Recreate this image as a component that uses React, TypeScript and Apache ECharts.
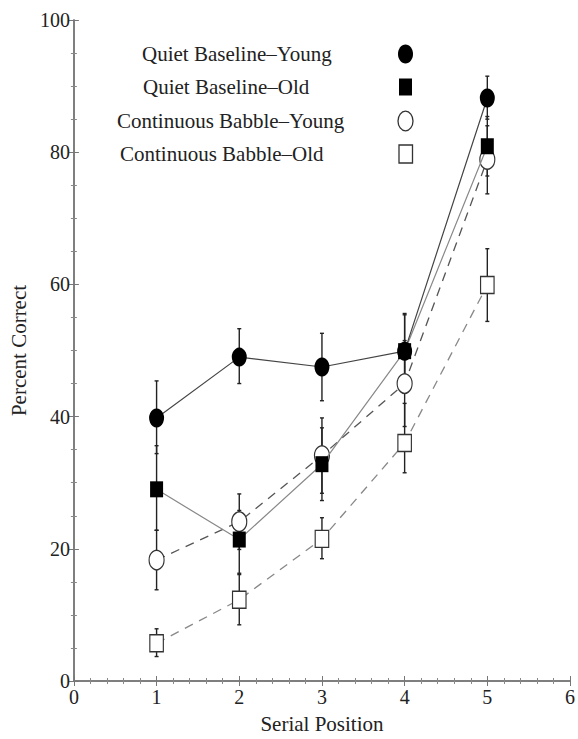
import React, { useEffect, useRef } from "react";
import * as echarts from "echarts";

const positions = [1, 2, 3, 4, 5];
const qbYoung = [39.8, 49.0, 47.5, 49.9, 88.2];
const qbYoungLow = [34.4, 45.0, 42.4, 44.4, 85.0];
const qbYoungHigh = [45.4, 53.3, 52.6, 55.6, 91.5];
const qbOld = [29.0, 21.4, 32.8, 49.9, 80.9];
const qbOldLow = [22.8, 16.3, 27.3, 44.4, 76.4];
const qbOldHigh = [35.6, 25.8, 38.3, 55.4, 85.4];
const cbYoung = [18.3, 24.1, 34.1, 45.0, 78.9];
const cbYoungLow = [13.8, 19.9, 28.4, 38.5, 73.7];
const cbYoungHigh = [22.8, 28.3, 39.8, 51.5, 84.0];
const cbOld = [5.7, 12.3, 21.5, 36.0, 59.9];
const cbOldLow = [3.7, 8.5, 18.5, 31.5, 54.4];
const cbOldHigh = [7.9, 16.1, 24.7, 42.0, 65.4];
const legendLabels = [
  "Quiet Baseline\u2013Young",
  "Quiet Baseline\u2013Old",
  "Continuous Babble\u2013Young",
  "Continuous Babble\u2013Old",
];

const FONT = "Liberation Serif";

export default function App() {
  const ref = useRef<HTMLDivElement>(null);
  useEffect(() => {
    if (!ref.current) return;
    const chart = echarts.init(ref.current, null, { renderer: "svg" });

    const pts = (ys: number[]) => positions.map((x, i) => [x, ys[i]]);
    const errData: number[][] = [];
    const addErr = (lo: number[], hi: number[]) =>
      positions.forEach((x, i) => errData.push([x, lo[i], hi[i]]));
    addErr(qbYoungLow, qbYoungHigh);
    addErr(qbOldLow, qbOldHigh);
    addErr(cbYoungLow, cbYoungHigh);
    addErr(cbOldLow, cbOldHigh);

    const axisCommon = {
      type: "value" as const,
      axisLine: { show: true, lineStyle: { color: "#777", width: 1.5 } },
      axisTick: { show: true, inside: true, length: 5, lineStyle: { color: "#777" } },
      splitLine: { show: false },
    };
    const label = { fontFamily: FONT, fontSize: 20, color: "#222" };

    const legendYs = [54, 87, 121, 154];
    const legendXs = [142, 143, 117, 120];
    const graphics: any[] = [];
    legendLabels.forEach((t, i) => {
      graphics.push({
        type: "text",
        x: legendXs[i],
        y: legendYs[i],
        style: { text: t, font: `21px "${FONT}"`, fill: "#222", textVerticalAlign: "middle", textAlign: "left" },
      });
    });
    graphics.push({ type: "ellipse", shape: { cx: 405.5, cy: legendYs[0], rx: 7.5, ry: 9.5 }, style: { fill: "#000" } });
    graphics.push({ type: "rect", shape: { x: 399, y: legendYs[1] - 8.5, width: 13, height: 17 }, style: { fill: "#000" } });
    graphics.push({ type: "ellipse", shape: { cx: 405.5, cy: legendYs[2], rx: 7.5, ry: 9.8 }, style: { fill: "#fff", stroke: "#333", lineWidth: 1.3 } });
    graphics.push({ type: "rect", shape: { x: 399, y: legendYs[3] - 9, width: 13.5, height: 18 }, style: { fill: "#fff", stroke: "#333", lineWidth: 1.3 } });

    chart.setOption({
      animation: false,
      backgroundColor: "#fff",
      grid: { left: 71, right: 6.5, top: 20, bottom: 54 },
      xAxis: [
        {
          ...axisCommon,
          min: 0,
          max: 6,
          interval: 1,
          position: "bottom",
          minorTick: { show: true, splitNumber: 5, length: 3, lineStyle: { color: "#888" } },
          axisLabel: { ...label, margin: 6 },
          name: "Serial Position",
          nameLocation: "middle",
          nameGap: 32,
          nameTextStyle: { fontFamily: FONT, fontSize: 21, color: "#222" },
        },
        {
          ...axisCommon,
          min: 0,
          max: 6,
          interval: 1,
          position: "top",
          minorTick: { show: true, splitNumber: 5, length: 3, lineStyle: { color: "#888" } },
          axisLabel: { show: false },
        },
      ],
      yAxis: [
        {
          ...axisCommon,
          min: 0,
          max: 100,
          interval: 20,
          position: "left",
          minorTick: { show: true, splitNumber: 4, length: 3, lineStyle: { color: "#888" } },
          axisLabel: { ...label, margin: 4 },
          name: "Percent Correct",
          nameLocation: "middle",
          nameGap: 41,
          nameTextStyle: { fontFamily: FONT, fontSize: 21, color: "#222" },
        },
        {
          ...axisCommon,
          min: 0,
          max: 100,
          interval: 20,
          position: "right",
          minorTick: { show: true, splitNumber: 4, length: 3, lineStyle: { color: "#888" } },
          axisLabel: { show: false },
        },
      ],
      graphic: graphics,
      series: [
        {
          type: "custom",
          name: "errors",
          z: 1,
          data: errData,
          renderItem: (params: any, api: any) => {
            const x = api.value(0);
            const lo = api.coord([x, api.value(1)]);
            const hi = api.coord([x, api.value(2)]);
            const cap = 2;
            const style = { stroke: "#222", lineWidth: 1.4 };
            return {
              type: "group",
              children: [
                { type: "line", shape: { x1: lo[0], y1: lo[1], x2: hi[0], y2: hi[1] }, style },
                { type: "line", shape: { x1: lo[0] - cap, y1: lo[1], x2: lo[0] + cap, y2: lo[1] }, style },
                { type: "line", shape: { x1: hi[0] - cap, y1: hi[1], x2: hi[0] + cap, y2: hi[1] }, style },
              ],
            };
          },
        },
        {
          type: "line",
          name: legendLabels[3],
          z: 2,
          data: pts(cbOld),
          symbol: "rect",
          symbolSize: [13.5, 17],
          lineStyle: { color: "#888", width: 1.3, type: [9, 7] },
          itemStyle: { color: "#fff", borderColor: "#333", borderWidth: 1.3 },
        },
        {
          type: "line",
          name: legendLabels[2],
          z: 3,
          data: pts(cbYoung),
          symbol: "circle",
          symbolSize: [15, 19.5],
          lineStyle: { color: "#555", width: 1.3, type: [9, 7] },
          itemStyle: { color: "#fff", borderColor: "#333", borderWidth: 1.3 },
        },
        {
          type: "line",
          name: legendLabels[1],
          z: 4,
          data: pts(qbOld),
          symbol: "rect",
          symbolSize: [13, 16],
          lineStyle: { color: "#888", width: 1.2 },
          itemStyle: { color: "#000" },
        },
        {
          type: "line",
          name: legendLabels[0],
          z: 5,
          data: pts(qbYoung),
          symbol: "circle",
          symbolSize: [15, 19],
          lineStyle: { color: "#444", width: 1.2 },
          itemStyle: { color: "#000" },
        },
      ],
    });
    return () => chart.dispose();
  }, []);
  return (
    <div
      ref={ref}
      style={{ position: "absolute", left: 0, top: 0, width: 578, height: 739 }}
    />
  );
}
